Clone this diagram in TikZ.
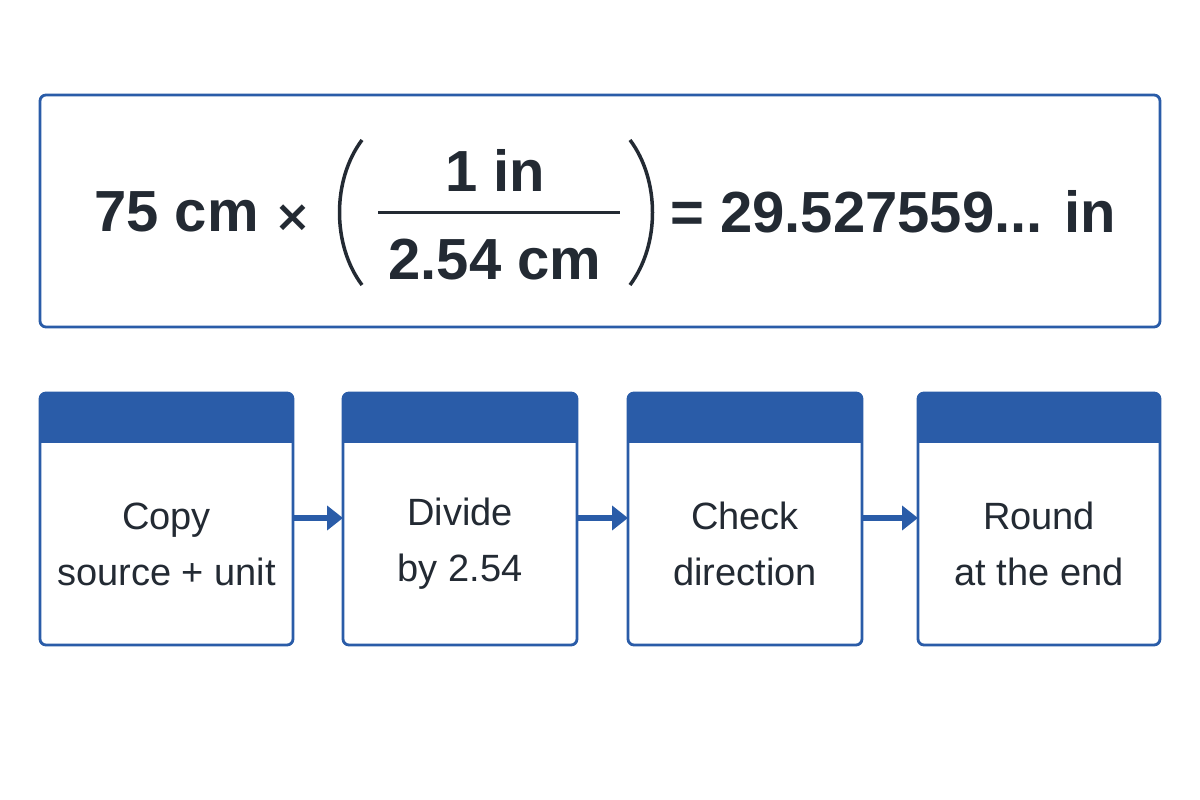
\documentclass[tikz,border=0pt]{standalone}
\usepackage{fontspec}
\setmainfont{Liberation Sans}
\newfontfamily\dej{DejaVu Sans}
\usetikzlibrary{arrows.meta}
\definecolor{bl}{HTML}{2A5CA8}
\definecolor{tx}{HTML}{232A33}
\begin{document}
\begin{tikzpicture}[x=1pt,y=1pt,
  card/.style={draw=bl,line width=2.8pt,rounded corners=6pt},
  lbl/.style={text=tx,align=center,font=\fontsize{38}{56}\selectfont},
  big/.style={text=tx,font=\fontsize{58}{64}\selectfont\bfseries},
  arr/.style={draw=bl,line width=6pt,-{Triangle[length=16pt,width=24pt]}}]
\useasboundingbox (0,0) rectangle (1200,800);
\fill[white] (0,0) rectangle (1200,800);
\draw[card] (40,473) rectangle (1160,705);
\node[big,anchor=east,inner sep=0pt] (a) at (312,588) {75 cm {\dej\fontsize{44}{50}\selectfont ×}};
\node[big] (n) at (495,630) {1 in};
\node[big] (d) at (495,540) {2.54 cm};
\draw[tx,line width=3pt] (378,587) -- (620,587);
\draw[tx,line width=3.5pt] (362,660) .. controls (332,620) and (332,555) .. (362,515);
\draw[tx,line width=3.5pt] (630,660) .. controls (660,620) and (660,555) .. (630,515);
\node[big,anchor=west,inner sep=0pt] (r) at (670,588) {= 29.527559... in};
\foreach \n/\xa/\xb/\t in {1/40/293/{Copy\\source + unit},2/343/577/{Divide\\by 2.54},3/628/862/{Check\\direction},4/918/1160/{Round\\at the end}}{
  \begin{scope}
  \clip[rounded corners=6pt] (\xa,155) rectangle (\xb,407);
  \fill[bl] (\xa,357) rectangle (\xb,407);
  \end{scope}
  \draw[card] (\xa,155) rectangle (\xb,407);
  \coordinate (b\n w) at (\xa,282);
  \coordinate (b\n e) at (\xb,282);
  \node[lbl] (t\n) at ({(\xa+\xb)/2},256) {\t};
}
\draw[arr] (b1e) -- (b2w);
\draw[arr] (b2e) -- (b3w);
\draw[arr] (b3e) -- (b4w);
\end{tikzpicture}
\end{document}
